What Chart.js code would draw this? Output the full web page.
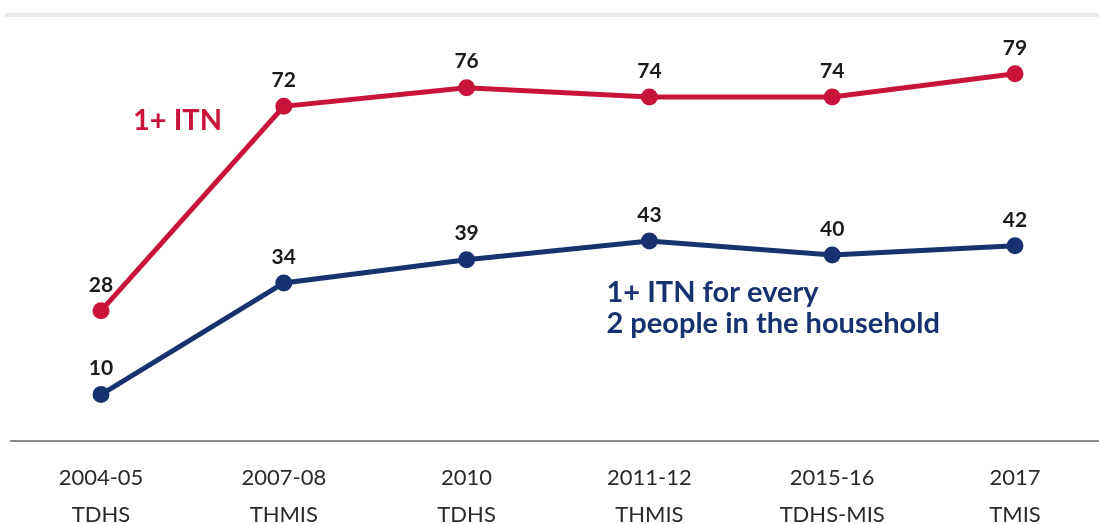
<!DOCTYPE html>
<html>
<head>
<meta charset="utf-8">
<script src="https://cdn.jsdelivr.net/npm/chart.js@4/dist/chart.umd.min.js"></script>
<style>
html,body{margin:0;padding:0;background:#fff;}
#wrap{width:1099px;height:524px;position:relative;}
</style>
</head>
<body>
<div id="wrap"><canvas id="c" width="1099" height="524"></canvas></div>
<script>
const categories = [["2004-05","TDHS"],["2007-08","THMIS"],["2010","TDHS"],["2011-12","THMIS"],["2015-16","TDHS-MIS"],["2017","TMIS"]];
const itnAny = [28, 72, 76, 74, 74, 79];
const itnPer2 = [10, 34, 39, 43, 40, 42];
const seriesNames = ["1+ ITN", "1+ ITN for every|2 people in the household"];

const RED = "#C8143A";
const NAVY = "#17326E";

const valueLabels = {
  id: "valueLabels",
  afterDatasetsDraw(chart) {
    const ctx = chart.ctx;
    ctx.save();
    ctx.font = "bold 21px Lato, 'Open Sans', sans-serif";
    ctx.fillStyle = "#1a1a1a";
    ctx.textAlign = "center";
    ctx.textBaseline = "middle";
    chart.data.datasets.forEach((ds, i) => {
      const meta = chart.getDatasetMeta(i);
      meta.data.forEach((pt, j) => {
        ctx.fillText(String(ds.data[j]), pt.x, pt.y - 26);
      });
    });
    ctx.restore();
  }
};

const decor = {
  id: "decor",
  beforeDraw(chart) {
    const ctx = chart.ctx;
    const y0 = chart.scales.y.getPixelForValue(0);
    ctx.save();
    ctx.fillStyle = "#fff";
    ctx.fillRect(0, 0, chart.width, chart.height);
    ctx.strokeStyle = "#ececec";
    ctx.lineWidth = 4;
    ctx.beginPath(); ctx.moveTo(5, 15); ctx.lineTo(chart.width, 15); ctx.stroke();
    ctx.strokeStyle = "#8c8c8c";
    ctx.lineWidth = 2;
    ctx.beginPath(); ctx.moveTo(10, y0); ctx.lineTo(chart.width, y0); ctx.stroke();
    ctx.restore();
  },
  afterDraw(chart) {
    const ctx = chart.ctx;
    const xs = chart.scales.x, ys = chart.scales.y;
    ctx.save();
    ctx.font = "bold 29px Lato, 'Open Sans', sans-serif";
    ctx.textAlign = "left";
    ctx.textBaseline = "middle";
    ctx.fillStyle = RED;
    ctx.fillText(seriesNames[0], xs.getPixelForValue(0.175), ys.getPixelForValue(69));
    ctx.fillStyle = NAVY;
    const lines = seriesNames[1].split("|");
    ctx.fillText(lines[0], xs.getPixelForValue(2.765), ys.getPixelForValue(32));
    ctx.fillText(lines[1], xs.getPixelForValue(2.765), ys.getPixelForValue(25.3));
    ctx.restore();
  }
};

new Chart(document.getElementById("c"), {
  type: "line",
  data: {
    labels: categories,
    datasets: [
      { label: "1+ ITN", data: itnAny, borderColor: RED, backgroundColor: RED, borderWidth: 5, pointRadius: 6, pointHoverRadius: 6, tension: 0 },
      { label: "1+ ITN for every 2 people in the household", data: itnPer2, borderColor: NAVY, backgroundColor: NAVY, borderWidth: 5, pointRadius: 6, pointHoverRadius: 6, tension: 0 }
    ]
  },
  options: {
    responsive: false,
    animation: false,
    events: [],
    layout: { padding: { left: 101, right: 84, top: 0, bottom: 0 } },
    plugins: { legend: { display: false }, tooltip: { enabled: false } },
    scales: {
      x: {
        type: "category",
        offset: false,
        grid: { display: false, drawTicks: false },
        border: { display: false },
        ticks: {
          color: "#2a2a2a",
          font: { family: "Lato, 'Open Sans', sans-serif", size: 22, lineHeight: 1.68 },
          padding: 18,
          maxRotation: 0,
          autoSkip: false
        },
        afterFit(scale) { scale.height = 83; }
      },
      y: {
        display: false,
        min: 0,
        max: 92.5
      }
    }
  },
  plugins: [decor, valueLabels]
});
</script>
</body>
</html>
